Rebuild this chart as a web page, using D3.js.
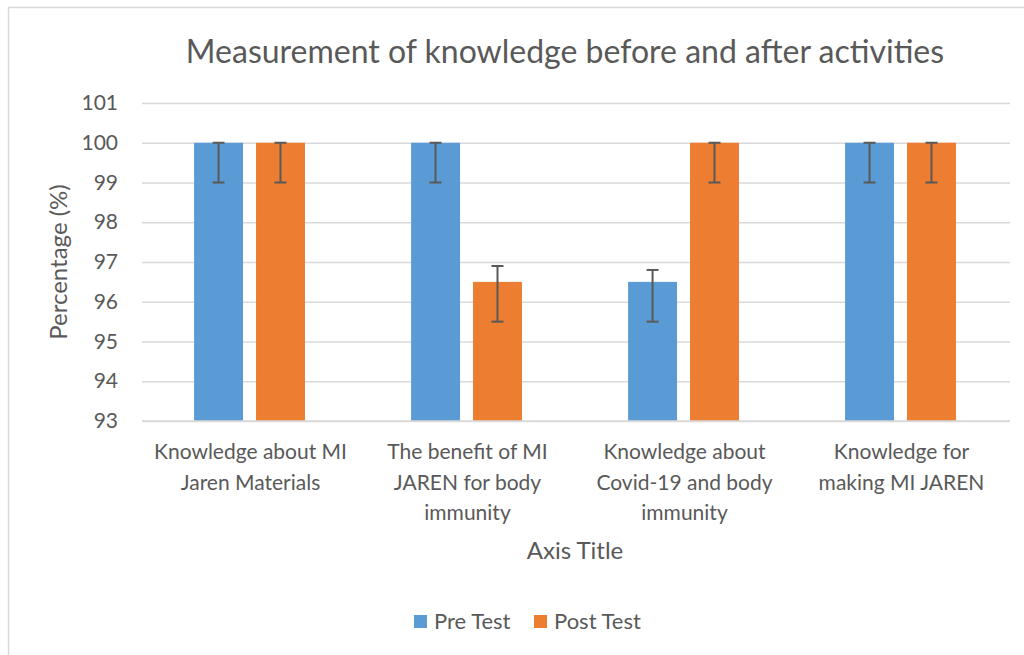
<!DOCTYPE html>
<html>
<head>
<meta charset="utf-8">
<script src="https://cdn.jsdelivr.net/npm/d3@7"></script>
<style>
  body { margin: 0; background: #fff; }
  svg { font-family: Lato, "Open Sans", sans-serif; }
</style>
</head>
<body>
<svg id="chart" width="1024" height="655"></svg>
<script>
// data
const categories = [
  ['Knowledge about MI', 'Jaren Materials'],
  ['The benefit of MI', 'JAREN for body', 'immunity'],
  ['Knowledge about', 'Covid-19 and body', 'immunity'],
  ['Knowledge for', 'making MI JAREN']
];
const seriesNames = ['Pre Test', 'Post Test'];
const preValues = [100, 100, 96.5, 100];
const postValues = [100, 96.5, 100, 100];
// error bar extents [minus, plus]
const preErrors = [[1, 0], [1, 0], [1, 0.3], [1, 0]];
const postErrors = [[1, 0], [1, 0.4], [1, 0], [1, 0]];
const yTicks = [93, 94, 95, 96, 97, 98, 99, 100, 101];
const colors = ['#5b9bd5', '#ed7d31'];

const svg = d3.select('#chart');
const margin = {top: 103, left: 142, right: 14, bottom: 234};
const width = 1024, height = 655;
const innerW = width - margin.left - margin.right;
const innerH = height - margin.top - margin.bottom;
const textColor = '#595959';
const gridColor = '#d9d9d9';

// chart frame (right and bottom fall outside the picture)
svg.append('rect')
  .attr('x', 8.5).attr('y', 7.5)
  .attr('width', 1030).attr('height', 660)
  .attr('fill', 'none')
  .attr('stroke', gridColor)
  .attr('stroke-width', 1.5);

const g = svg.append('g')
  .attr('transform', `translate(${margin.left},${margin.top})`);

const x0 = d3.scaleBand()
  .domain(d3.range(categories.length))
  .range([0, innerW]);

const x1 = d3.scaleBand()
  .domain(seriesNames)
  .range([x0.bandwidth() * 0.24, x0.bandwidth() * 0.751])
  .paddingInner(0.21);

const y = d3.scaleLinear()
  .domain([93, 101])
  .range([innerH, 0]);

// gridlines
const yAxis = d3.axisLeft(y)
  .tickValues(yTicks)
  .tickSize(-innerW)
  .tickPadding(24);

const yAxisG = g.append('g').attr('class', 'y-axis').call(yAxis);
yAxisG.select('.domain').remove();
yAxisG.selectAll('line')
  .attr('stroke', gridColor)
  .attr('stroke-width', 1.5);
yAxisG.selectAll('text')
  .attr('fill', textColor)
  .attr('font-size', 21)
  .attr('font-family', 'Lato, "Open Sans", sans-serif');

// bars
const rows = categories.map((c, i) => ({
  index: i,
  values: [
    {key: seriesNames[0], value: preValues[i], err: preErrors[i], color: colors[0]},
    {key: seriesNames[1], value: postValues[i], err: postErrors[i], color: colors[1]}
  ]
}));

const groups = g.selectAll('.group').data(rows)
  .enter().append('g')
    .attr('class', 'group')
    .attr('transform', d => `translate(${x0(d.index)},0)`);

groups.selectAll('rect').data(d => d.values)
  .enter().append('rect')
    .attr('x', d => x1(d.key))
    .attr('y', d => y(d.value))
    .attr('width', x1.bandwidth())
    .attr('height', d => innerH - y(d.value))
    .attr('fill', d => d.color);

// error bars
const errG = groups.selectAll('.err').data(d => d.values)
  .enter().append('g')
    .attr('class', 'err')
    .attr('stroke', '#595959')
    .attr('stroke-width', 2);

const cx = d => x1(d.key) + x1.bandwidth() / 2;
errG.append('line')
  .attr('x1', cx).attr('x2', cx)
  .attr('y1', d => y(d.value - d.err[0]))
  .attr('y2', d => y(d.value + d.err[1]));
errG.append('line')
  .attr('x1', d => cx(d) - 6).attr('x2', d => cx(d) + 6)
  .attr('y1', d => y(d.value - d.err[0]))
  .attr('y2', d => y(d.value - d.err[0]));
errG.append('line')
  .attr('x1', d => cx(d) - 6).attr('x2', d => cx(d) + 6)
  .attr('y1', d => y(d.value + d.err[1]))
  .attr('y2', d => y(d.value + d.err[1]));

// x axis line
g.append('line')
  .attr('x1', 0).attr('x2', innerW)
  .attr('y1', innerH).attr('y2', innerH)
  .attr('stroke', gridColor)
  .attr('stroke-width', 1.5);

// category labels
const catText = g.selectAll('.cat').data(categories)
  .enter().append('text')
    .attr('class', 'cat')
    .attr('text-anchor', 'middle')
    .attr('fill', textColor)
    .attr('font-size', 21)
    .attr('transform', (d, i) => `translate(${x0(i) + x0.bandwidth() / 2},${innerH + 38})`);

catText.selectAll('tspan').data(d => d)
  .enter().append('tspan')
    .attr('x', 0)
    .attr('dy', (d, i) => i === 0 ? 0 : 30.5)
    .text(d => d);

// title
svg.append('text')
  .attr('x', 565).attr('y', 63)
  .attr('text-anchor', 'middle')
  .attr('fill', textColor)
  .attr('font-size', 32)
  .text('Measurement of knowledge before and after activities');

// axis titles
svg.append('text')
  .attr('transform', 'translate(67,262) rotate(-90)')
  .attr('text-anchor', 'middle')
  .attr('fill', textColor)
  .attr('font-size', 24)
  .text('Percentage (%)');

svg.append('text')
  .attr('x', 575).attr('y', 559)
  .attr('text-anchor', 'middle')
  .attr('fill', textColor)
  .attr('font-size', 24)
  .text('Axis Title');

// legend
const legendX = [414, 534];
const legend = svg.selectAll('.legend').data(seriesNames)
  .enter().append('g')
    .attr('class', 'legend')
    .attr('transform', (d, i) => `translate(${legendX[i]},615)`);

legend.append('rect')
  .attr('width', 13).attr('height', 13)
  .attr('fill', (d, i) => colors[i]);

legend.append('text')
  .attr('x', 20).attr('y', 14)
  .attr('fill', textColor)
  .attr('font-size', 22)
  .text(d => d);
</script>
</body>
</html>
